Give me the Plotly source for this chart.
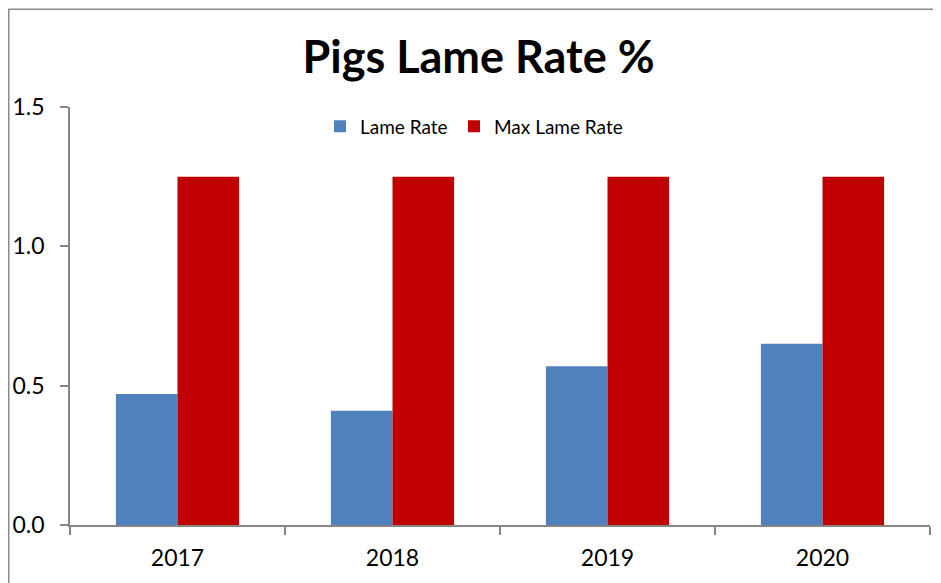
import plotly.graph_objects as go

years = ["2017", "2018", "2019", "2020"]
lame_rate = [0.47, 0.41, 0.57, 0.65]
max_lame_rate = [1.25, 1.25, 1.25, 1.25]
y_ticks = [0.0, 0.5, 1.0, 1.5]

# page body adds an 8px offset; compensate in margins
OFF = 8
W, H = 941, 583
L, T = 70 - OFF, 106.5 - OFF
R = W - (930 - OFF)
B = H - (525 - OFF)
pw, ph = W - L - R, H - T - B


def px_x(x_img):
    return (x_img - OFF - L) / pw


def px_y(y_img):
    return (H - B - (y_img - OFF)) / ph


fig = go.Figure()
fig.add_trace(go.Bar(x=years, y=lame_rate, name="Lame Rate", marker_color="#4F81BD",
                     marker_line_width=0, legend="legend"))
fig.add_trace(go.Bar(x=years, y=max_lame_rate, name="Max Lame Rate", marker_color="#C00000",
                     marker_line_width=0, legend="legend2"))

leg_common = dict(orientation="h", xanchor="left", yanchor="middle", y=px_y(126),
                  font=dict(size=19, family="Lato"), bgcolor="rgba(0,0,0,0)", itemwidth=30)

fig.update_layout(
    width=W, height=H,
    margin=dict(l=L, r=R, t=T, b=B, pad=0, autoexpand=False),
    paper_bgcolor="white", plot_bgcolor="white",
    barmode="group", bargap=0.427, bargroupgap=0,
    font=dict(family="Lato", color="black"),
    title=dict(text="<b>Pigs Lame Rate %</b>", font=dict(family="Lato", size=45, color="black"),
               x=px_x(478.5), xref="paper", xanchor="center",
               y=1 - (57 - OFF) / H, yref="container", yanchor="middle"),
    legend=dict(x=px_x(320), **leg_common),
    legend2=dict(x=px_x(454), **leg_common),
    showlegend=True,
)
fig.update_xaxes(showline=True, linecolor="#868686", linewidth=1.5, automargin=False,
                 ticks="outside", tickson="boundaries", ticklen=8, tickcolor="#868686", tickwidth=1.5,
                 tickfont=dict(size=23, family="Lato"), ticklabelstandoff=12, showgrid=False)
fig.update_yaxes(range=[0, 1.5], tickvals=y_ticks, tickformat=".1f", automargin=False,
                 showline=True, linecolor="#868686", linewidth=1.5,
                 ticks="outside", ticklen=8, tickcolor="#868686", tickwidth=1.5,
                 tickfont=dict(size=23, family="Lato"), ticklabelstandoff=11,
                 showgrid=False, zeroline=False)

# outer chart border (cropped at right and bottom in the reference)
fig.add_shape(type="rect", xref="paper", yref="paper",
              x0=(0.75 - L) / pw, x1=(W + 20 - L) / pw,
              y0=-(B + 20) / ph, y1=(H - B - 0.75) / ph,
              line=dict(color="#8c8c8c", width=1.5), fillcolor="rgba(0,0,0,0)", layer="above")

fig.write_html("out.html")
